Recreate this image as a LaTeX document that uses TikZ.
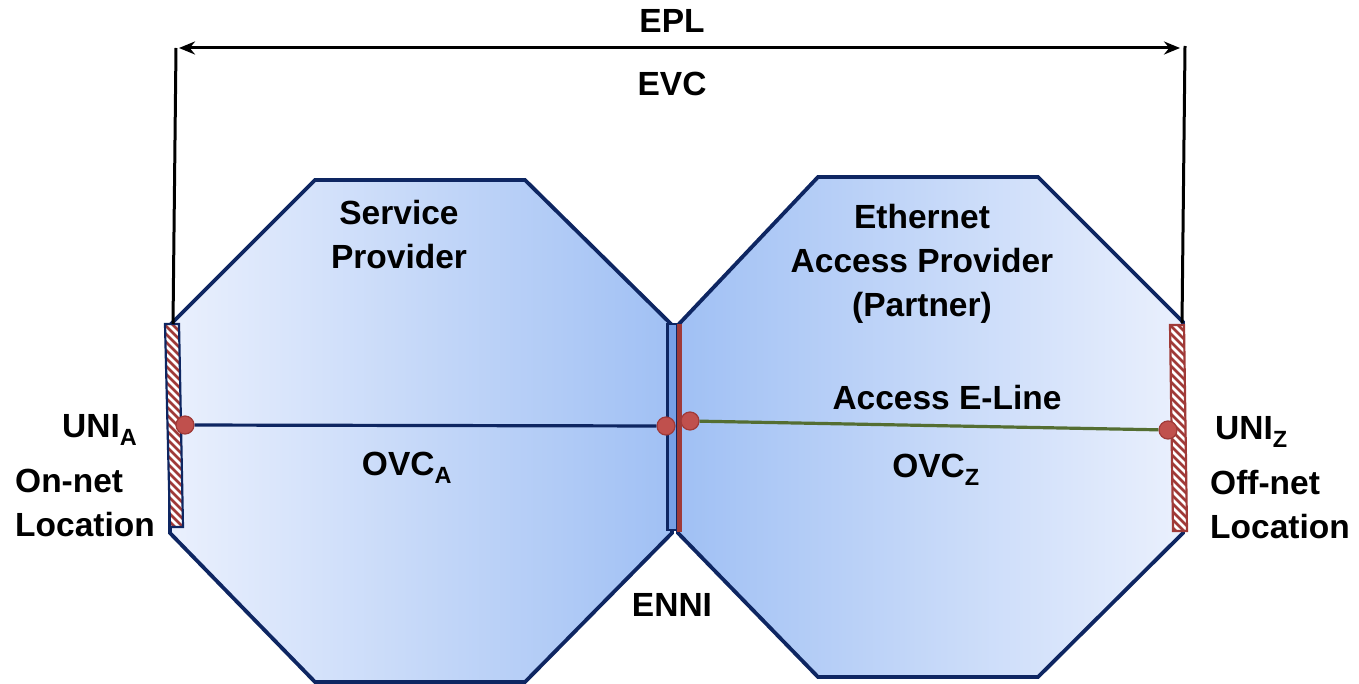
\documentclass[tikz,border=0pt]{standalone}
\usepackage{fontspec}
\setmainfont{Liberation Sans}
\usetikzlibrary{arrows.meta}

\definecolor{navy}{RGB}{14,38,98}
\definecolor{lightblue}{RGB}{234,240,253}
\definecolor{midblue}{RGB}{160,192,244}
\definecolor{barblue}{RGB}{120,160,230}
\definecolor{hatchred}{RGB}{160,58,56}
\definecolor{dotred}{RGB}{192,80,77}
\definecolor{dotedge}{RGB}{160,58,56}
\definecolor{olive}{RGB}{84,110,50}

\tikzset{
  octagon/.style={draw=navy, line width=3.8pt, line join=miter},
  hatchline/.style={hatchred, line width=2.6pt},
  dot/.style={circle, fill=dotred, draw=dotedge, line width=1.2pt, minimum size=18pt, inner sep=0pt},
  label/.style={font=\fontsize{33.5}{44}\selectfont\bfseries, inner sep=0pt},
  bracket/.style={black, line width=3pt},
}

\begin{document}
\begin{tikzpicture}[x=1pt,y=-1pt]
\useasboundingbox (0,0) rectangle (1359,684);

% service provider domain
\shade[left color=lightblue, right color=midblue]
  (315,180) -- (525,180) -- (672,325) -- (672,533) -- (525,682) -- (315,682) -- (170,533) -- (170,325) -- cycle;
\draw[octagon]
  (315,180) -- (525,180) -- (672,325) -- (672,533) -- (525,682) -- (315,682) -- (170,533) -- (170,325) -- cycle;

% access provider domain
\shade[left color=midblue, right color=lightblue]
  (818,177) -- (1038,177) -- (1183,322) -- (1183,533) -- (1038,677) -- (818,677) -- (678,533) -- (678,325) -- cycle;
\draw[octagon]
  (818,177) -- (1038,177) -- (1183,322) -- (1183,533) -- (1038,677) -- (818,677) -- (678,533) -- (678,325) -- cycle;

% ENNI interface bars
\filldraw[fill=barblue, draw=navy, line width=2.4pt] (667.5,324) rectangle (677,530);
\fill[hatchred] (677,324) rectangle (682,532);

% UNI-A interface bar
\begin{scope}
  \fill[white] (165,324) -- (179,324) -- (183,527) -- (170,527) -- cycle;
  \clip (165,324) -- (179,324) -- (183,527) -- (170,527) -- cycle;
  \foreach \yy in {270,278,...,540} {
    \draw[hatchline] (150,\yy) -- (200,\yy+50);
  }
\end{scope}
\draw[navy, line width=2.2pt] (165,324) -- (179,324) -- (183,527) -- (170,527) -- cycle;

% UNI-Z interface bar
\begin{scope}
  \fill[white] (1170,325) -- (1184,325) -- (1187,531) -- (1173,531) -- cycle;
  \clip (1170,325) -- (1184,325) -- (1187,531) -- (1173,531) -- cycle;
  \foreach \yy in {270,278,...,540} {
    \draw[hatchline] (1155,\yy) -- (1205,\yy+50);
  }
\end{scope}
\draw[hatchred, line width=2.2pt] (1170,325) -- (1184,325) -- (1187,531) -- (1173,531) -- cycle;

% OVC end points
\node[dot] (ua) at (185,425) {};
\node[dot] (ea) at (666,426) {};
\node[dot] (ez) at (690,421) {};
\node[dot] (uz) at (1168,430) {};

\draw[navy, line width=3.2pt] (ua) -- (ea);
\draw[olive, line width=3.2pt] (ez) -- (uz);

% EPL span
\coordinate (lt) at (176,48);
\coordinate (lb) at (173,324);
\coordinate (rt) at (1185,46);
\coordinate (rb) at (1182,323);
\draw[bracket] (lt) -- (lb);
\draw[bracket] (rt) -- (rb);
\coordinate (al) at (179,48);
\coordinate (ar) at (1180,48);
\draw[bracket, {Stealth[length=16pt,width=13pt]}-{Stealth[length=16pt,width=13pt]}] (al) -- (ar);

% labels
\node[label] (epl) at (672,21) {EPL};
\node[label] (evc) at (672,84) {EVC};
\node[label, align=center] (sp) at (399,235) {Service\\Provider};
\node[label, align=center] (eap) at (922,264) {Ethernet\\Access Provider\\(Partner)};
\node[label] (ael) at (947,398) {Access E-Line};
\node[label] (ovca) at (407,468) {OVC\textsubscript{A}};
\node[label] (ovcz) at (936,470) {OVC\textsubscript{Z}};
\node[label] (enni) at (672,605) {ENNI};
\node[label, anchor=west] (unia) at (62,430) {UNI\textsubscript{A}};
\node[label, anchor=west, align=left] (onnet) at (15,503) {On-net\\Location};
\node[label, anchor=west] (uniz) at (1215,432) {UNI\textsubscript{Z}};
\node[label, anchor=west, align=left] (offnet) at (1210,505) {Off-net\\Location};
\end{tikzpicture}
\end{document}
